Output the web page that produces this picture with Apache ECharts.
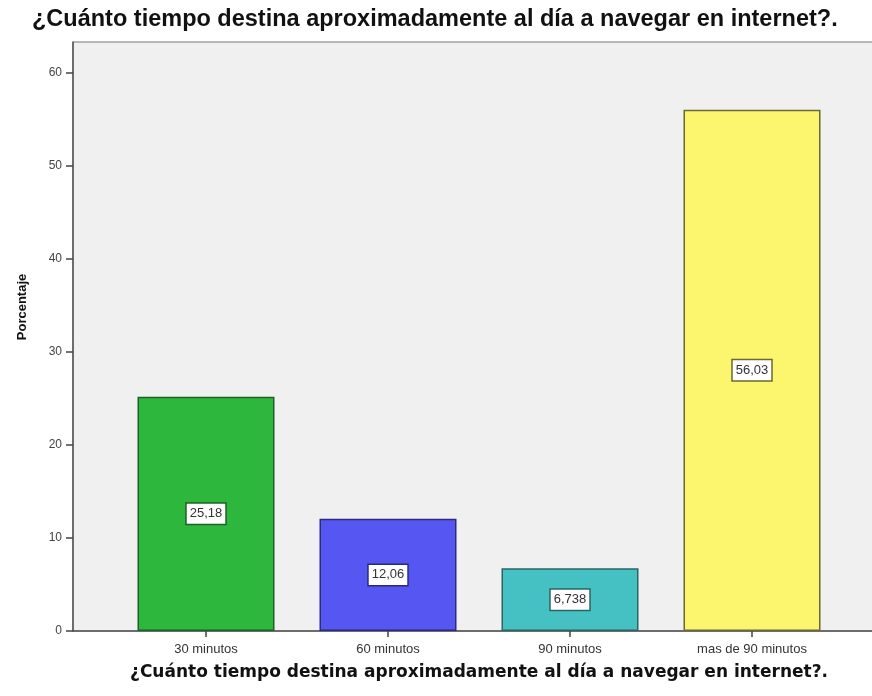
<!DOCTYPE html>
<html>
<head>
<meta charset="utf-8">
<script src="https://cdn.jsdelivr.net/npm/echarts@6/dist/echarts.min.js"></script>
<style>
  html, body { margin: 0; padding: 0; background: #fff; }
  #chart { width: 872px; height: 696px; }
</style>
</head>
<body>
<div id="chart"></div>
<script>
const chartTitle = "¿Cuánto tiempo destina aproximadamente al día a navegar en internet?."
const yTitle = "Porcentaje"
const categories = ["30 minutos", "60 minutos", "90 minutos", "mas de 90 minutos"]
const percentages = [25.18, 12.06, 6.738, 56.03]
const yTicks = [0, 10, 20, 30, 40, 50, 60]

// relleno y borde de cada barra
const barColors = ["#2db83d", "#5656f2", "#45c1c3", "#fbf66e"]
const borderColors = ["#1f5f28", "#2b2b7a", "#2c6466", "#6b6833"]

const chart = echarts.init(document.getElementById("chart"))

const seriesData = percentages.map((v, i) => ({
  value: v,
  itemStyle: { color: barColors[i], borderColor: borderColors[i] },
  label: { borderColor: borderColors[i] }
}))

chart.setOption({
  animation: false,
  title: {
    text: chartTitle,
    left: 27,
    top: 3,
    textStyle: {
      fontFamily: "Liberation Sans",
      fontWeight: "bold",
      fontSize: 23.5,
      color: "#111"
    }
  },
  graphic: [
    {
      type: "text",
      x: 22,
      y: 307,
      rotation: Math.PI / 2,
      style: {
        text: yTitle,
        align: "center",
        verticalAlign: "middle",
        font: "bold 13px 'Liberation Sans'",
        fill: "#111"
      }
    }
  ],
  grid: [
    // marco gris del gráfico
    {
      left: 73, right: -15, top: 42, bottom: 65,
      outerBoundsMode: "none",
      show: true,
      backgroundColor: "#f0f0f0",
      borderColor: "#777",
      borderWidth: 1
    },
    // zona de las barras
    { left: 115, right: 29, top: 42, bottom: 65, outerBoundsMode: "none" }
  ],
  xAxis: [
    {
      gridIndex: 0,
      type: "value",
      min: 0,
      max: 1,
      axisLine: { show: true, lineStyle: { color: "#555", width: 1.5 } },
      axisTick: { show: false },
      axisLabel: { show: false },
      splitLine: { show: false }
    },
    {
      gridIndex: 1,
      type: "category",
      data: categories,
      axisLine: { show: false },
      axisTick: {
        show: true,
        alignWithLabel: true,
        length: 6,
        lineStyle: { color: "#444", width: 1.5 }
      },
      axisLabel: {
        margin: 12,
        fontFamily: "Liberation Sans",
        fontSize: 13,
        color: "#333"
      },
      name: chartTitle,
      nameLocation: "middle",
      nameGap: 33,
      nameTextStyle: {
        fontFamily: "DejaVu Sans",
        fontWeight: "bold",
        fontSize: 17,
        color: "#111"
      }
    }
  ],
  yAxis: [
    {
      gridIndex: 0,
      type: "value",
      min: 0,
      max: 63.3,
      axisLine: { show: true, lineStyle: { color: "#555", width: 1.5 } },
      axisTick: {
        show: true,
        length: 7,
        customValues: yTicks,
        lineStyle: { color: "#444", width: 1.5 }
      },
      axisLabel: {
        customValues: yTicks,
        margin: 11,
        fontFamily: "Liberation Sans",
        fontSize: 12,
        color: "#444"
      },
      splitLine: { show: false }
    },
    {
      gridIndex: 1,
      type: "value",
      min: 0,
      max: 63.3,
      show: false
    }
  ],
  series: [
    {
      type: "bar",
      xAxisIndex: 1,
      yAxisIndex: 1,
      barWidth: 137,
      data: seriesData,
      itemStyle: { borderWidth: 1.5 },
      label: {
        show: true,
        position: "inside",
        formatter: p => String(p.value).replace(".", ","),
        backgroundColor: "#fff",
        borderWidth: 1.5,
        padding: [4, 3, 3, 3],
        fontFamily: "Liberation Sans",
        fontSize: 13,
        color: "#333"
      }
    }
  ]
})
</script>
</body>
</html>
